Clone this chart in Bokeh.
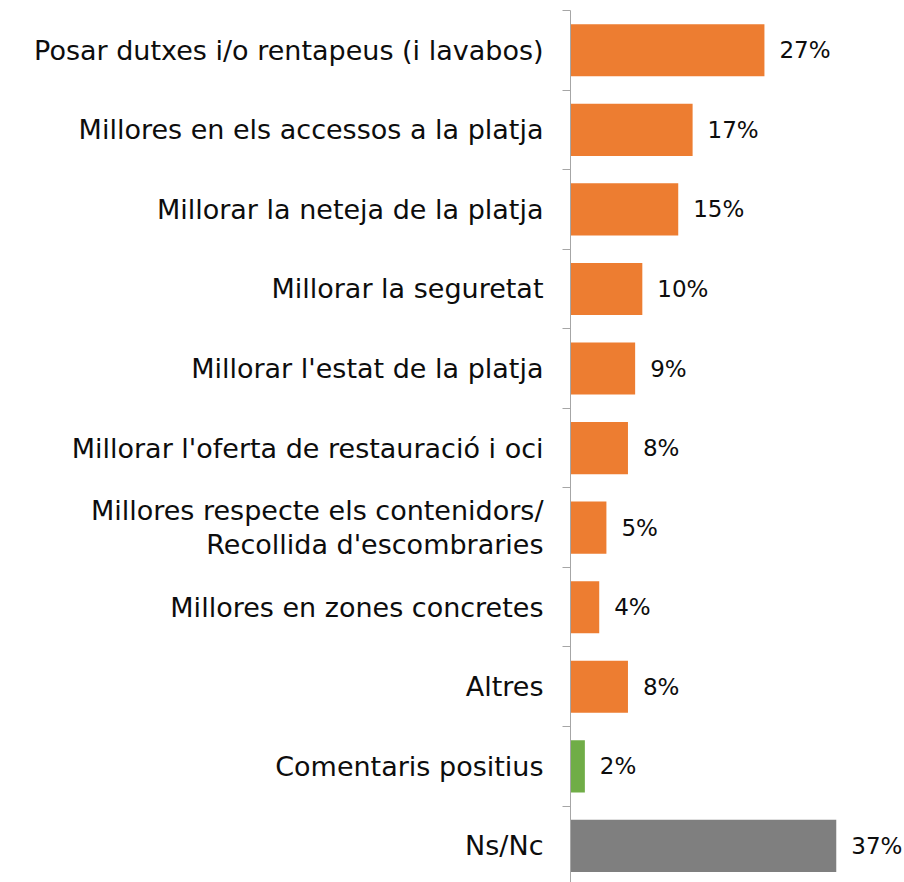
from bokeh.plotting import figure
from bokeh.models import ColumnDataSource, LabelSet, Range1d, FixedTicker, LinearAxis
from bokeh.core.properties import value
from bokeh.embed import file_html
from bokeh.resources import INLINE

categories = [
    "Posar dutxes i/o rentapeus (i lavabos)",
    "Millores en els accessos a la platja",
    "Millorar la neteja de la platja",
    "Millorar la seguretat",
    "Millorar l'estat de la platja",
    "Millorar l'oferta de restauració i oci",
    "Millores respecte els contenidors/\nRecollida d'escombraries",
    "Millores en zones concretes",
    "Altres",
    "Comentaris positius",
    "Ns/Nc",
]
values = [27, 17, 15, 10, 9, 8, 5, 4, 8, 2, 37]
colors = ["#ED7D31"] * 9 + ["#70AD47", "#7F7F7F"]

n = len(categories)
centers = [i + 0.5 for i in range(n)]
src = ColumnDataSource(dict(
    cat=categories, val=values, y=centers, color=colors,
    pct=[f"{v}%" for v in values],
))

FONT = "DejaVu Sans"
TXT = "#0d0d0d"

p = figure(width=904, height=882, output_backend="svg", toolbar_location=None,
           x_axis_type=None, x_range=Range1d(0, 46.5), y_range=Range1d(10.96, 0),
           min_border_left=570, min_border_right=0, min_border_top=10, min_border_bottom=0)
p.outline_line_color = None
p.grid.visible = False

p.hbar(y="y", left=0, right="val", height=0.655, color="color", line_color=None, source=src)

# inner axis: line and boundary ticks
ax = p.yaxis[0]
ax.ticker = FixedTicker(ticks=list(range(n + 1)))
ax.major_label_overrides = {i: "" for i in range(n + 1)}
ax.major_label_text_font_size = "1px"
ax.major_label_standoff = 0
ax.minor_tick_line_color = None
ax.major_tick_in = 0
ax.major_tick_out = 8
ax.axis_line_color = "#A6A6A6"
ax.major_tick_line_color = "#A6A6A6"

# outer axis: category labels at centers
lab = LinearAxis(ticker=FixedTicker(ticks=centers),
                 major_label_overrides={c: t for c, t in zip(centers, categories)},
                 axis_line_color=None, major_tick_line_color=None, minor_tick_line_color=None,
                 major_tick_in=0, major_tick_out=0, major_label_standoff=19,
                 major_label_text_font=FONT, major_label_text_font_size="27px",
                 major_label_text_line_height=1.1,
                 major_label_text_color=TXT)
p.add_layout(lab, "left")

p.add_layout(LabelSet(x="val", y="y", text="pct", source=src, x_offset=15,
                      text_align="left", text_baseline="middle",
                      text_font=value(FONT), text_font_size=value("23px"),
                      text_color=TXT))

open("out.html", "w").write(file_html(p, INLINE))
